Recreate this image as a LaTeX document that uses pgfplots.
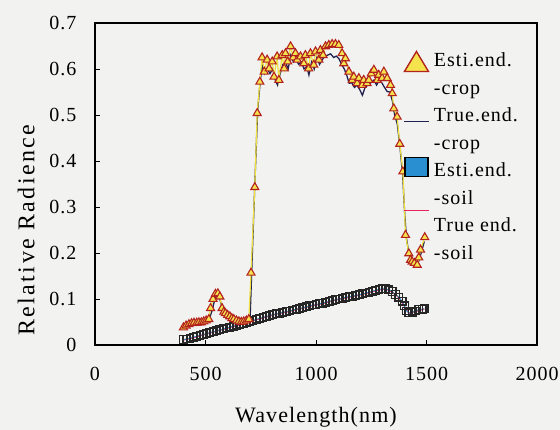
\documentclass[border=0pt]{standalone}
\usepackage{pgfplots}
\pgfplotsset{compat=1.18}
\usepackage{fontspec}
\setmainfont{Liberation Serif}[LetterSpace=5]
\newfontfamily\ylabfont{Liberation Serif}[LetterSpace=10]
\definecolor{bg}{HTML}{F2F2F0}
\definecolor{cropfill}{HTML}{F4E34C}
\definecolor{cropedge}{HTML}{B3221E}
\definecolor{cropline}{HTML}{EEE040}
\definecolor{navy}{HTML}{22224E}
\definecolor{soilfill}{HTML}{2A8FD0}
\definecolor{soilred}{HTML}{E8245A}

\pgfplotstableread{
x y
400 0.038
412 0.042
425 0.045
437 0.047
448 0.048
460 0.048
470 0.049
481 0.049
492 0.051
503 0.053
515 0.056
523 0.080
534 0.100
545 0.111
556 0.112
565 0.105
575 0.080
583 0.072
590 0.069
600 0.065
610 0.062
619 0.058
628 0.056
640 0.053
651 0.051
662 0.050
673 0.051
685 0.053
696 0.056
706 0.157
723 0.343
734 0.504
746 0.572
756 0.625
766 0.594
779 0.620
788 0.601
802 0.616
810 0.583
824 0.627
832 0.576
847 0.630
856 0.601
862 0.634
872 0.616
885 0.649
897 0.625
907 0.634
915 0.620
930 0.627
945 0.612
952 0.630
967 0.601
975 0.634
990 0.609
998 0.638
1013 0.620
1020 0.641
1032 0.630
1043 0.649
1058 0.652
1073 0.654
1088 0.654
1103 0.652
1118 0.634
1126 0.612
1133 0.623
1149 0.594
1164 0.576
1171 0.583
1186 0.569
1194 0.580
1209 0.565
1216 0.576
1231 0.569
1239 0.576
1250 0.590
1262 0.598
1277 0.576
1284 0.587
1299 0.580
1307 0.594
1322 0.580
1337 0.565
1345 0.547
1352 0.514
1367 0.496
1379 0.437
1393 0.377
1405 0.239
1420 0.199
1428 0.185
1435 0.181
1445 0.178
1458 0.174
1465 0.190
1473 0.207
1492 0.234
}\estcrop

\pgfplotstableread{
x y
400 0.036
420 0.040
440 0.043
460 0.045
480 0.047
500 0.050
515 0.054
530 0.075
545 0.105
560 0.108
575 0.082
590 0.068
610 0.060
630 0.055
650 0.050
670 0.049
690 0.052
702 0.060
712 0.200
724 0.360
736 0.510
748 0.575
758 0.610
768 0.590
780 0.600
792 0.590
804 0.600
816 0.575
826 0.565
838 0.590
850 0.610
862 0.615
874 0.600
886 0.630
898 0.615
910 0.620
922 0.610
934 0.615
946 0.600
958 0.605
968 0.587
980 0.615
992 0.600
1004 0.625
1016 0.610
1028 0.620
1040 0.628
1052 0.630
1066 0.633
1080 0.625
1092 0.628
1103 0.623
1116 0.610
1128 0.600
1140 0.585
1150 0.569
1162 0.570
1174 0.560
1186 0.565
1198 0.555
1210 0.543
1222 0.560
1234 0.565
1248 0.570
1262 0.576
1274 0.565
1286 0.575
1298 0.570
1310 0.560
1322 0.551
1334 0.550
1346 0.530
1356 0.500
1368 0.480
1380 0.430
1392 0.370
1402 0.280
1410 0.230
1420 0.200
1432 0.185
1445 0.175
1458 0.172
1470 0.190
1490 0.225
}\truecrop

\pgfplotstableread{
x y
400 0.012
415 0.013
430 0.015
445 0.017
460 0.019
475 0.021
490 0.023
505 0.025
520 0.027
535 0.029
550 0.031
565 0.033
580 0.035
595 0.037
610 0.039
625 0.041
640 0.043
655 0.045
670 0.047
685 0.049
700 0.051
715 0.053
730 0.056
745 0.058
760 0.060
775 0.062
790 0.064
805 0.066
820 0.068
835 0.069
850 0.071
865 0.073
880 0.074
895 0.076
910 0.078
925 0.079
940 0.081
955 0.083
970 0.085
985 0.087
1000 0.088
1015 0.090
1030 0.091
1045 0.093
1060 0.095
1075 0.097
1090 0.099
1105 0.100
1120 0.102
1135 0.104
1150 0.105
1165 0.106
1180 0.108
1195 0.109
1210 0.111
1225 0.113
1240 0.115
1255 0.117
1270 0.119
1285 0.121
1300 0.122
1315 0.122
1330 0.120
1345 0.116
1360 0.110
1375 0.104
1390 0.095
1400 0.085
1410 0.074
1420 0.070
1435 0.071
1450 0.074
1465 0.077
1480 0.078
1490 0.079
}\estsoil

\pgfplotstableread{
x y
400 0.011
430 0.014
460 0.018
490 0.022
520 0.026
550 0.030
580 0.034
610 0.038
640 0.042
670 0.046
700 0.050
730 0.055
760 0.059
790 0.063
820 0.067
850 0.070
880 0.073
910 0.077
940 0.080
970 0.084
1000 0.087
1030 0.090
1060 0.094
1090 0.098
1120 0.101
1150 0.104
1180 0.107
1210 0.110
1240 0.114
1270 0.118
1300 0.121
1320 0.121
1345 0.115
1375 0.103
1400 0.084
1420 0.069
1450 0.073
1490 0.078
}\truesoil

\begin{document}
\begin{tikzpicture}
\path[use as bounding box, fill=bg] (-95bp,-85bp) rectangle (465bp,345bp);
\begin{axis}[
  at={(0,0)}, anchor=south west,
  width=442bp, height=322bp, scale only axis,
  xmin=0, xmax=2000, ymin=0, ymax=0.7,
  xtick={0,500,1000,1500,2000},
  ytick={0,0.1,0.2,0.3,0.4,0.5,0.6,0.7},
  tick align=inside, xtick pos=bottom, ytick pos=left,
  major tick length=5bp,
  tick style={black, line width=0.8bp},
  axis line style={black, line width=1.2bp},
  /pgf/number format/assume math mode=true,
  yticklabel style={/pgf/number format/fixed, /pgf/number format/precision=1},
  xticklabel style={/pgf/number format/1000 sep={}},
  ticklabel style={font=\fontsize{20bp}{24bp}\selectfont},
  xticklabel style={yshift=-19bp},
  yticklabel style={xshift=-15bp},
  xlabel={Wavelength(nm)},
  xlabel style={font=\fontsize{22bp}{26bp}\selectfont, at={(axis description cs:0.5,-0.242)}, anchor=base},
  ylabel={Relative Radience},
  ylabel style={font=\fontsize{24bp}{28bp}\ylabfont, at={(axis description cs:-0.156,0.357)}, anchor=center},
  legend style={at={(axis description cs:0.699,0.910)}, anchor=north west, draw=none, fill=none,
    inner sep=0pt, outer sep=0pt,
    font=\fontsize{20bp}{24bp}\selectfont,
    nodes={inner sep=0pt, text height=15bp, text depth=5bp},
    row sep=7.5bp, column sep=5bp},
  legend cell align=left,
]
\addplot[soilred, line width=1.2bp, forget plot] table {\truesoil};
\addplot[soilfill, line width=0.8bp, mark=square, mark size=3.8bp,
  mark options={draw=black!85, line width=1.3bp}, forget plot] table {\estsoil};
\addplot[navy, line width=1.3bp, forget plot] table {\truecrop};
\addplot[cropline, line width=1.2bp, mark=triangle*, mark size=4.6bp,
  mark options={fill=cropfill, draw=cropedge, line width=1.1bp}, forget plot] table {\estcrop};

\addlegendimage{legend image code/.code={\path[draw=none,fill=none] (0bp,0bp) -- (25bp,0bp);
  \draw[overlay, fill=cropfill, draw=cropedge, line width=1.4bp] (0.5bp,-9.5bp) -- (24.5bp,-9.5bp) -- (12.5bp,10.5bp) -- cycle;}}
\addlegendentry{Esti.end.}
\addlegendimage{empty legend}
\addlegendentry{-crop}
\addlegendimage{legend image code/.code={\path[draw=none,fill=none] (0bp,0bp) -- (25bp,0bp);
  \draw[overlay, draw=navy, line width=1.6bp] (0bp,-4.5bp) -- (25bp,-4.5bp);}}
\addlegendentry{True.end.}
\addlegendimage{empty legend}
\addlegendentry{-crop}
\addlegendimage{legend image code/.code={\path[draw=none,fill=none] (0bp,0bp) -- (25bp,0bp);
  \draw[overlay, fill=soilfill, draw=black, line width=1.3bp] (1bp,-4.5bp) rectangle (24bp,14.5bp);}}
\addlegendentry{Esti.end.}
\addlegendimage{empty legend}
\addlegendentry{-soil}
\addlegendimage{legend image code/.code={\path[draw=none,fill=none] (0bp,0bp) -- (25bp,0bp);
  \draw[overlay, draw=soilred, line width=1.6bp] (0bp,16.5bp) -- (25bp,16.5bp);}}
\addlegendentry{True end.}
\addlegendimage{empty legend}
\addlegendentry{-soil}
\end{axis}
\end{tikzpicture}
\end{document}
